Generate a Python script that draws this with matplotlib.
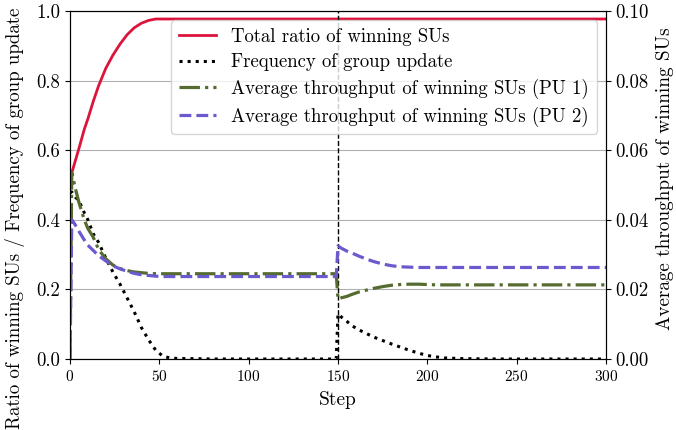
import matplotlib
matplotlib.use("Agg")
import matplotlib.pyplot as plt

plt.rcParams['font.family'] = ['cmr10', 'DejaVu Serif']
plt.rcParams['mathtext.fontset'] = 'cm'
plt.rcParams['axes.formatter.use_mathtext'] = True
plt.rcParams['font.size'] = 13

steps = [0, 1, 3, 5, 8, 10, 13, 16, 20, 24, 28, 32, 36, 40, 44, 48, 52, 56, 60, 70, 80,
         100, 120, 140, 149, 150, 152, 155, 158, 162, 166, 170, 175, 180, 185, 190, 195,
         200, 205, 210, 220, 240, 260, 280, 300]

total_ratio = [0.53, 0.535, 0.57, 0.605, 0.66, 0.69, 0.74, 0.785, 0.835, 0.873, 0.905, 0.932,
               0.952, 0.965, 0.973, 0.977, 0.977, 0.977, 0.977, 0.977, 0.977,
               0.977, 0.977, 0.977, 0.977, 0.977, 0.977, 0.977, 0.977, 0.977, 0.977, 0.977,
               0.977, 0.977, 0.977, 0.977, 0.977, 0.977, 0.977, 0.977, 0.977, 0.977, 0.977,
               0.977, 0.977]

group_update = [0.48, 0.48, 0.465, 0.455, 0.42, 0.40, 0.36, 0.335, 0.29, 0.25, 0.215, 0.175,
                0.135, 0.09, 0.055, 0.025, 0.008, 0.003, 0.0015, 0.001, 0.0,
                0.0, 0.0, 0.0, 0.0, 0.13, 0.12, 0.108, 0.095, 0.083, 0.073, 0.063, 0.053,
                0.043, 0.034, 0.025, 0.017, 0.01, 0.006, 0.003, 0.001, 0.0, 0.0, 0.0, 0.0]

throughput_pu1 = [0.0, 0.0535, 0.049, 0.045, 0.040, 0.0375, 0.035, 0.0315, 0.0288, 0.027,
                  0.026, 0.0254, 0.0250, 0.0248, 0.0246, 0.0245, 0.0245, 0.0245, 0.0245,
                  0.0245, 0.0245, 0.0245, 0.0245, 0.0245, 0.0245, 0.0172, 0.0176, 0.018,
                  0.0186, 0.0193, 0.0198, 0.0203, 0.0208, 0.0212, 0.0214, 0.0215, 0.0215,
                  0.0214, 0.0213, 0.0213, 0.0213, 0.0213, 0.0213, 0.0213, 0.0213]

throughput_pu2 = [0.0, 0.040, 0.0385, 0.0367, 0.0342, 0.0327, 0.0312, 0.0297, 0.0282, 0.0268,
                  0.0259, 0.0252, 0.0246, 0.0242, 0.024, 0.0238, 0.0237, 0.0237, 0.0237,
                  0.0237, 0.0237, 0.0237, 0.0237, 0.0237, 0.0237, 0.0325, 0.0318, 0.031,
                  0.0304, 0.0295, 0.0287, 0.028, 0.0273, 0.0268, 0.0265, 0.0264, 0.0263,
                  0.0263, 0.0263, 0.0263, 0.0263, 0.0263, 0.0263, 0.0263, 0.0263]

update_step = 150

fig = plt.figure(figsize=(6.76, 4.30), dpi=100)
ax = fig.add_axes([70 / 676, 1 - 359 / 430, 536 / 676, 348 / 430])
ax2 = ax.twinx()

ax.yaxis.grid(True, color='#b0b0b0', linewidth=0.8)
ax.set_axisbelow(True)

l1, = ax.plot(steps, total_ratio, color='#DC143C', lw=2.0, label='Total ratio of winning SUs')
l2, = ax.plot(steps, group_update, color='black', lw=2.2, linestyle=':',
              label='Frequency of group update')
ax.axvline(update_step, color='black', lw=1.0, linestyle='--')
l3, = ax2.plot(steps, throughput_pu1, color='#556B2F', lw=2.3, linestyle='-.',
               label='Average throughput of winning SUs (PU 1)')
l4, = ax2.plot(steps, throughput_pu2, color='#6A5ACD', lw=2.3, linestyle='--',
               label='Average throughput of winning SUs (PU 2)')

ax.set_xlim(0, 300)
ax.set_ylim(0, 1.0)
ax2.set_ylim(0, 0.1)
ax.set_xticks([0, 50, 100, 150, 200, 250, 300])
ax.set_yticks([0.0, 0.2, 0.4, 0.6, 0.8, 1.0])
ax2.set_yticks([0.0, 0.02, 0.04, 0.06, 0.08, 0.10])
ax.set_yticklabels(['0.0', '0.2', '0.4', '0.6', '0.8', '1.0'], fontsize=13.5)
ax2.set_yticklabels(['0.00', '0.02', '0.04', '0.06', '0.08', '0.10'], fontsize=13.5)
ax.tick_params(axis='x', labelsize=11)

ax.set_xlabel('Step', fontsize=14, labelpad=5)
ax.set_ylabel('Ratio of winning SUs / Frequency of group update', fontsize=13.6)
ax2.set_ylabel('Average throughput of winning SUs', fontsize=13.8)
ax.yaxis.set_label_coords(-0.084, 0.405)
ax2.yaxis.set_label_coords(1.094, 0.519)

ax2.legend(handles=[l1, l2, l3, l4], loc='upper right', fontsize=13.5, labelspacing=0.4)

fig.savefig('out.png', dpi=100)
